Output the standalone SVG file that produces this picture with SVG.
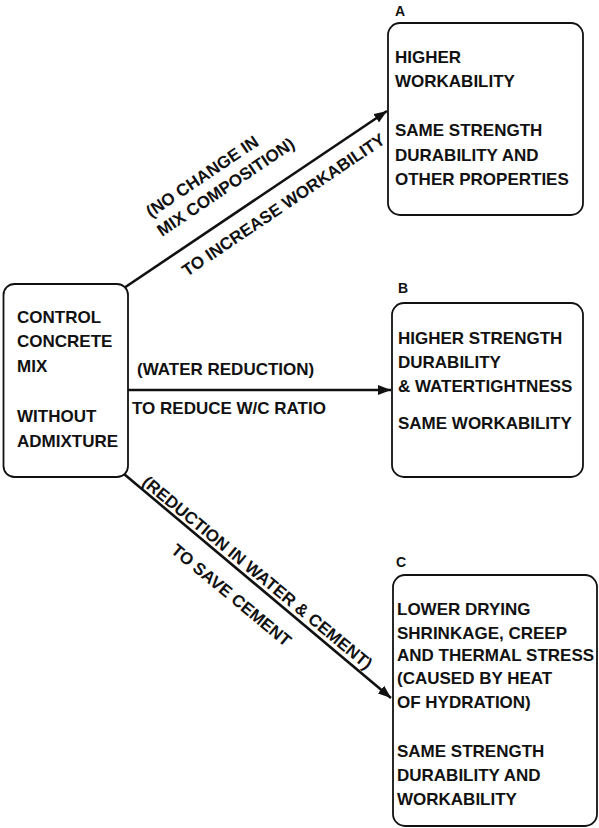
<svg xmlns="http://www.w3.org/2000/svg" width="599" height="828" viewBox="0 0 599 828">
<defs>
<style>
.box{fill:#fff;stroke:#111;stroke-width:1.8}
.t{font-family:"Liberation Sans",Arial,sans-serif;font-weight:bold;font-size:17px;fill:#111}
.lbl{font-family:"Liberation Sans",Arial,sans-serif;font-weight:bold;font-size:14px;fill:#111}
.conn{stroke:#111;stroke-width:2.6;fill:none;marker-end:url(#ah)}
</style>
<marker id="ah" markerUnits="userSpaceOnUse" markerWidth="14" markerHeight="10" refX="13" refY="5" orient="auto">
<path d="M0,0 L13,5 L0,10 z" fill="#111"/>
</marker>
</defs>
<rect width="599" height="828" fill="#fff"/>
<g id="connectors">
<line class="conn" x1="124" y1="288" x2="387" y2="111"/>
<line class="conn" x1="128" y1="390" x2="391" y2="390"/>
<line class="conn" x1="124" y1="474" x2="391" y2="698"/>
<text class="t" transform="translate(151,218) rotate(-34)">(NO CHANGE IN</text>
<text class="t" transform="translate(162,237) rotate(-34)">MIX COMPOSITION)</text>
<text class="t" transform="translate(187,277) rotate(-34)">TO INCREASE WORKABILITY</text>
<text class="t" x="137" y="375">(WATER REDUCTION)</text>
<text class="t" x="132" y="414">TO REDUCE W/C RATIO</text>
<text class="t" transform="translate(141,484) rotate(39.6)">(REDUCTION IN WATER &amp; CEMENT)</text>
<text class="t" transform="translate(170,552) rotate(39.6)">TO SAVE CEMENT</text>
</g>
<g id="control">
<rect class="box" x="3.5" y="284" width="124.5" height="193" rx="11"/>
<text class="t" x="17" y="323">CONTROL</text>
<text class="t" x="17" y="347">CONCRETE</text>
<text class="t" x="17" y="372">MIX</text>
<text class="t" x="17" y="422">WITHOUT</text>
<text class="t" x="17" y="447">ADMIXTURE</text>
</g>
<g id="boxA">
<text class="lbl" x="395" y="16">A</text>
<rect class="box" x="388" y="23" width="195" height="192" rx="12"/>
<text class="t" x="395" y="63">HIGHER</text>
<text class="t" x="395" y="87">WORKABILITY</text>
<text class="t" x="395" y="136">SAME STRENGTH</text>
<text class="t" x="395" y="161">DURABILITY AND</text>
<text class="t" x="395" y="185">OTHER PROPERTIES</text>
</g>
<g id="boxB">
<text class="lbl" x="398" y="293">B</text>
<rect class="box" x="392" y="303" width="191" height="174" rx="12"/>
<text class="t" x="398" y="344">HIGHER STRENGTH</text>
<text class="t" x="398" y="368">DURABILITY</text>
<text class="t" x="398" y="392">&amp; WATERTIGHTNESS</text>
<text class="t" x="398" y="429">SAME WORKABILITY</text>
</g>
<g id="boxC">
<text class="lbl" x="396" y="567">C</text>
<rect class="box" x="393" y="575" width="204" height="251" rx="12"/>
<text class="t" x="397" y="615">LOWER DRYING</text>
<text class="t" x="397" y="639">SHRINKAGE, CREEP</text>
<text class="t" x="397" y="661">AND THERMAL STRESS</text>
<text class="t" x="397" y="684">(CAUSED BY HEAT</text>
<text class="t" x="397" y="708">OF HYDRATION)</text>
<text class="t" x="397" y="757">SAME STRENGTH</text>
<text class="t" x="397" y="781">DURABILITY AND</text>
<text class="t" x="397" y="805">WORKABILITY</text>
</g>
</svg>
